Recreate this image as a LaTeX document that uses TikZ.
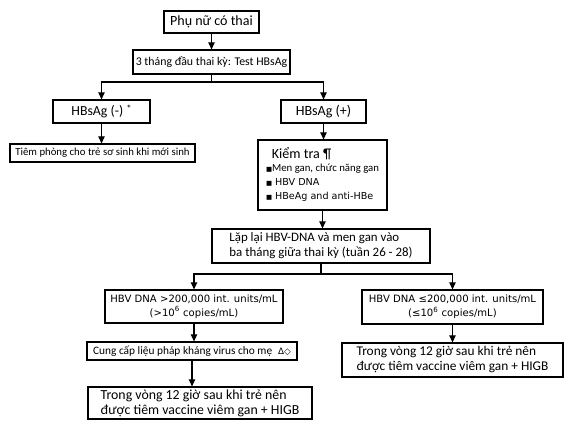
\documentclass[tikz,border=0pt]{standalone}
\usepackage{fontspec}
\setmainfont{Carlito}
\newfontfamily\verd{DejaVu Sans}
\usetikzlibrary{arrows.meta}

\tikzset{
  box/.style={draw, line width=1.05pt, inner sep=0pt, align=center},
  conn/.style={line width=1.05pt, -{Triangle[length=6pt,width=5.5pt]}},
  link/.style={line width=1.05pt},
}

\begin{document}
\begin{tikzpicture}[x=0.03cm, y=-0.03cm]
  \useasboundingbox (0,0) rectangle (580,432);

  % screening
  \node[box, minimum width=2.85cm, minimum height=0.66cm, font=\fontsize{12}{14}\selectfont] (preg) at (211.5,22) {Phụ nữ có thai};
  \node[box, minimum width=4.71cm, minimum height=0.72cm, font=\fontsize{10.1}{11}\selectfont] (test) at (211.5,62) {3 tháng đầu thai kỳ: Test HBsAg};
  \node[box, minimum width=2.91cm, minimum height=0.69cm, font=\fontsize{11.8}{14}\selectfont] (neg) at (101.5,111.5) {HBsAg (-) \raisebox{3pt}{\fontsize{9}{10}\selectfont *}};
  \node[box, minimum width=2.55cm, minimum height=0.69cm, font=\fontsize{12}{14}\selectfont] (pos) at (323.5,111.5) {HBsAg (+)};
  \node[box, minimum width=5.55cm, minimum height=0.54cm, font=\fontsize{9.2}{11}\selectfont] (vac) at (102.5,153) {Tiêm phòng cho trẻ sơ sinh khi mới sinh};

  % HBsAg positive
  \node[box, minimum width=3.87cm, minimum height=2.1cm, align=left] (check) at (322.5,175)
    {\fontsize{12}{14}\selectfont\hspace{5pt}Kiểm tra ¶\\[-1pt]
     \fontsize{9.2}{12}\selectfont{\verd\fontsize{5.5}{12}\selectfont ■}Men gan, chức năng gan\\
     {\verd\fontsize{8.2}{12}\selectfont{\fontsize{5.5}{12}\selectfont ■} HBV DNA}\\
     {\verd\fontsize{8.2}{12}\selectfont{\fontsize{5.5}{12}\selectfont ■} HBeAg and anti-HBe}};
  \node[box, minimum width=6.54cm, minimum height=1.02cm, align=left, font=\fontsize{11}{12.8}\selectfont] (repeat) at (321,246)
    {Lặp lại HBV-DNA và men gan vào\\ba tháng giữa thai kỳ (tuần 26 - 28)};

  \node[box, minimum width=5.34cm, minimum height=0.99cm, font=\verd\fontsize{8.6}{12}\selectfont] (high) at (194,306.5)
    {HBV DNA >200,000 int. units/mL\\(>10\textsuperscript{6} copies/mL)};
  \node[box, minimum width=5.43cm, minimum height=1.02cm, font=\verd\fontsize{8.6}{12}\selectfont] (low) at (452.5,307)
    {HBV DNA ≤200,000 int. units/mL\\(≤10\textsuperscript{6} copies/mL)};
  \node[box, minimum width=6.3cm, minimum height=0.54cm, font=\fontsize{9.7}{11}\selectfont] (anti) at (192,351)
    {Cung cấp liệu pháp kháng virus cho mẹ\hspace{5pt}{\verd\fontsize{7.5}{11}\selectfont Δ◇}};
  \node[box, minimum width=6.72cm, minimum height=0.96cm, align=left, font=\fontsize{11.8}{12.8}\selectfont] (infL) at (200,403)
    {Trong vòng 12 giờ sau khi trẻ nên\\được tiêm vaccine viêm gan + HIGB};
  \node[box, minimum width=6.63cm, minimum height=1.02cm, align=left, font=\fontsize{11.4}{12.8}\selectfont] (infR) at (452.5,360)
    {Trong vòng 12 giờ sau khi trẻ nên\\được tiêm vaccine viêm gan + HIGB};

  % connectors
  \coordinate (s1) at (211.5,82);
  \coordinate (s2) at (321,274);
  \draw[conn] (preg) -- (test);
  \draw[link] (test.south) -- (s1);
  \draw[conn] (s1) -| (neg.north);
  \draw[conn] (s1) -| (pos.north);
  \draw[conn] (neg.south) -- (neg.south |- vac.north);
  \draw[conn] (pos.south) -- (pos.south |- check.north);
  \draw[conn] (check.south) -- (check.south |- repeat.north);
  \draw[link] (repeat.south) -- (s2);
  \draw[conn] (s2) -| (high.north);
  \draw[conn] (s2) -| (low.north);
  \draw[conn] (high.south) -- (high.south |- anti.north);
  \draw[conn] (anti.south) -- (anti.south |- infL.north);
  \draw[conn] (low) -- (infR);

\end{tikzpicture}
\end{document}
